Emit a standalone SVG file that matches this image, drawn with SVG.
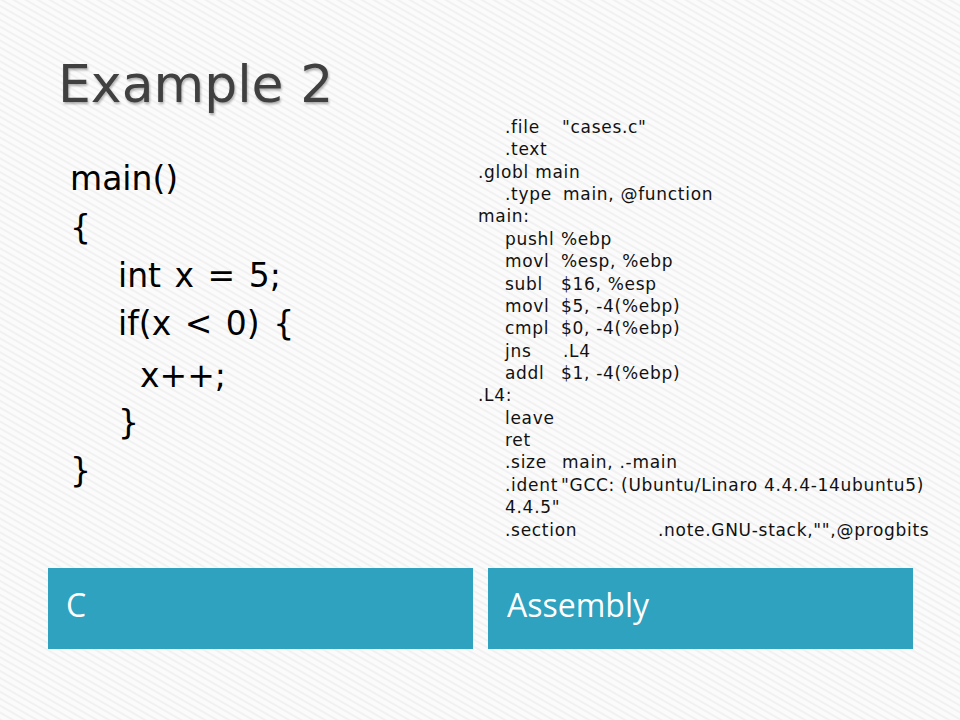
<svg xmlns="http://www.w3.org/2000/svg" width="960" height="720" viewBox="0 0 960 720">
<defs>
<pattern id="stripes" width="6" height="6" patternUnits="userSpaceOnUse" patternTransform="rotate(-60)">
<rect width="6" height="6" fill="#fbfbfb"/>
<rect width="2" height="6" fill="#f1f1f1"/>
</pattern>
<filter id="sh" x="-10%" y="-10%" width="120%" height="130%">
<feDropShadow dx="1" dy="2" stdDeviation="1.2" flood-color="#000" flood-opacity="0.3"/>
</filter>
</defs>
<style>
.title{font-family:"DejaVu Sans",sans-serif;font-size:52px;fill:#404040}
.c{font-family:"DejaVu Sans",sans-serif;font-size:33px;fill:#000;word-spacing:3px}
.asm{font-family:"DejaVu Sans",sans-serif;font-size:17px;fill:#111;letter-spacing:0.7px}
.box{fill:#2ea2bf}
.lbl{font-family:"Open Sans",sans-serif;font-size:32px;fill:#fff}
</style>
<rect width="960" height="720" fill="url(#stripes)"/>
<g id="title"><text class="title" x="58" y="102" filter="url(#sh)">Example 2</text></g>
<g id="c-code" class="c">
<text x="70" y="190">main()</text>
<text x="70" y="239">{</text>
<text x="118" y="287">int x = 5;</text>
<text x="118" y="335">if(x &lt; 0) {</text>
<text x="140" y="387">x++;</text>
<text x="118" y="434">}</text>
<text x="70" y="482">}</text>
</g>
<g id="asm-code" class="asm">
<text x="505" y="132.5">.file</text><text x="562" y="132.5">"cases.c"</text>
<text x="505" y="155">.text</text>
<text x="478" y="177.5">.globl main</text>
<text x="505" y="199.5">.type</text><text x="563" y="199.5">main, @function</text>
<text x="478" y="222">main:</text>
<text x="505" y="244.5">pushl</text><text x="561" y="244.5">%ebp</text>
<text x="505" y="267">movl</text><text x="561" y="267">%esp, %ebp</text>
<text x="505" y="289.5">subl</text><text x="561" y="289.5">$16, %esp</text>
<text x="505" y="311.5">movl</text><text x="561" y="311.5">$5, -4(%ebp)</text>
<text x="505" y="334">cmpl</text><text x="561" y="334">$0, -4(%ebp)</text>
<text x="505" y="356.5">jns</text><text x="563" y="356.5">.L4</text>
<text x="505" y="379">addl</text><text x="561" y="379">$1, -4(%ebp)</text>
<text x="478" y="401">.L4:</text>
<text x="505" y="423.5">leave</text>
<text x="505" y="446">ret</text>
<text x="505" y="468">.size</text><text x="562" y="468">main, .-main</text>
<text x="505" y="490.5">.ident</text><text x="561" y="490.5">"GCC: (Ubuntu/Linaro 4.4.4-14ubuntu5)</text>
<text x="505" y="513">4.4.5"</text>
<text x="505" y="535.5">.section</text><text x="658" y="535.5">.note.GNU-stack,"",@progbits</text>
</g>
<g id="box-c"><rect class="box" x="48" y="568" width="425" height="81"/><text class="lbl" x="66" y="617">C</text></g>
<g id="box-asm"><rect class="box" x="488" y="568" width="425" height="81"/><text class="lbl" x="507" y="617">Assembly</text></g>
<g id="connectors"/>
</svg>
